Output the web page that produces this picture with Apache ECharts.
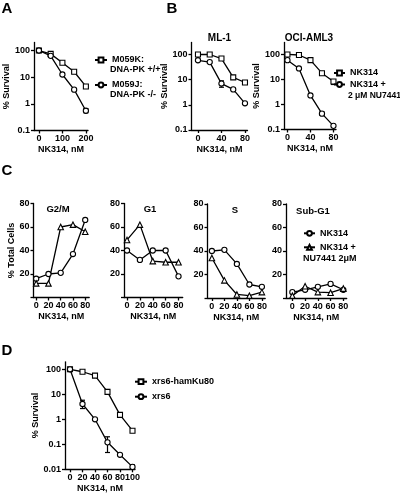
<!DOCTYPE html>
<html><head><meta charset="utf-8">
<script src="https://cdn.jsdelivr.net/npm/echarts@6/dist/echarts.min.js"></script>
<style>html,body{margin:0;padding:0;background:#fff}#c{width:400px;height:499px}</style>
</head><body><div id="c"></div>
<script>
// ---------- data ----------
const doseA = [0, 50, 100, 150, 200];
const m059k = [100, 75, 35, 16, 4.5];
const m059j = [100, 63, 12.6, 3.4, 0.55];
const errA = [[200, 0.46, 0.66]];

const doseB = [0, 20, 40, 60, 80];
const ml1Nk = [100, 100, 69, 12.3, 7.7];
const ml1Combo = [59, 50, 7, 4.1, 1.15];
const errMl1 = [[40, 5, 9]];
const ociNk = [100, 95, 59, 17.8, 8.3];
const ociCombo = [59, 27.5, 2.3, 0.43, 0.14];
const errOci = [[80, 6.3, 9.5], [60, 0.37, 0.5]];

const doseC = [0, 20, 40, 60, 80];
const g2mNk = [16, 20, 21, 37, 66];
const g2mCombo = [12, 12, 60, 62, 56];
const g1Nk = [40, 32, 40, 40, 18];
const g1Combo = [49, 62, 31, 30, 30];
const sNk = [40, 41, 29, 11.5, 9.5];
const sCombo = [34, 15, 3, 2, 5];
const subNk = [5, 7, 9.5, 12, 7];
const subCombo = [2, 10, 5, 4.5, 8];

const doseD = [0, 20, 40, 60, 80, 100];
const ku80 = [100, 80, 56, 12.5, 1.5, 0.35];
const xrs6 = [100, 4.1, 1.0, 0.12, 0.038, 0.0125];
const errD = [[20, 2.7, 5.8], [60, 0.047, 0.2], [60, 10.5, 15.5], [100, 0.011, 0.015]];

const ticksA = [0, 100, 200];
const ticksB = [0, 40, 80];
const ticksC = [0, 20, 40, 60, 80];
const ticksCy = [20, 40, 60, 80];
const ticksD = [0, 20, 40, 60, 80, 100];
const ticksLog = [0.1, 1, 10, 100];
const ticksLogD = [0.01, 0.1, 1, 10, 100];

// ---------- styling helpers ----------
const FONT = '"Liberation Sans", Arial, Helvetica, sans-serif';
const txt = (size) => ({ color: '#000', fontSize: size, fontWeight: 'bold', fontFamily: FONT });
const AX = { color: '#000', width: 1.3 };

function xAx(gi, min, max, ticks) {
  return {
    type: 'value', gridIndex: gi, min: min, max: max,
    axisLine: { show: true, onZero: false, lineStyle: AX },
    axisTick: { show: true, length: 3, customValues: ticks, lineStyle: AX },
    axisLabel: Object.assign({ customValues: ticks, margin: 4 }, txt(9)),
    splitLine: { show: false },
    name: 'NK314, nM', nameLocation: 'middle', nameGap: 15,
    nameTextStyle: txt(9)
  };
}
function fmtLog(v) {
  const m = { 0.01: '0.01', 0.1: '0.1', 1: '1', 10: '10', 100: '100' };
  for (const k in m) { if (Math.abs(v - k) / k < 1e-6) return m[k]; }
  return '';
}
function yLog(gi, min, max, ticks, gap) {
  return {
    type: 'log', logBase: 10, gridIndex: gi, min: min, max: max,
    axisLine: { show: true, onZero: false, lineStyle: AX },
    axisTick: { show: true, length: 3, customValues: ticks, lineStyle: AX },
    axisLabel: Object.assign({ customValues: ticks, margin: 4, formatter: fmtLog }, txt(9)),
    minorTick: { show: false },
    splitLine: { show: false },
    name: '% Survival', nameLocation: 'middle', nameGap: gap,
    nameTextStyle: txt(9)
  };
}
function yLin(gi, name, gap) {
  return {
    type: 'value', gridIndex: gi, min: 0, max: 80,
    axisLine: { show: true, onZero: false, lineStyle: AX },
    axisTick: { show: true, length: 3, customValues: [0].concat(ticksCy), lineStyle: AX },
    axisLabel: Object.assign({ customValues: ticksCy, margin: 4 }, txt(9)),
    splitLine: { show: false },
    name: name, nameLocation: 'middle', nameGap: gap,
    nameTextStyle: txt(9)
  };
}
function line(name, gi, xs, ys, symbol) {
  return {
    type: 'line', name: name, xAxisIndex: gi, yAxisIndex: gi,
    data: xs.map((x, i) => [x, ys[i]]),
    symbol: symbol, symbolSize: symbol === 'triangle' ? 5.5 : (symbol === 'rect' ? 5 : 5.2),
    showSymbol: true,
    itemStyle: { color: '#fff', borderColor: '#000', borderWidth: 1.1 },
    lineStyle: { color: '#000', width: 1.3 },
    emphasis: { disabled: true }, silent: true, z: 3
  };
}
function errBars(gi, arr) {
  return {
    type: 'custom', xAxisIndex: gi, yAxisIndex: gi, data: arr, silent: true, z: 2,
    renderItem: function (params, api) {
      const x = api.value(0);
      const p1 = api.coord([x, api.value(1)]);
      const p2 = api.coord([x, api.value(2)]);
      const w = 2.5, st = { stroke: '#000', lineWidth: 1.2 };
      return { type: 'group', children: [
        { type: 'line', shape: { x1: p1[0], y1: p1[1], x2: p2[0], y2: p2[1] }, style: st },
        { type: 'line', shape: { x1: p1[0] - w, y1: p1[1], x2: p1[0] + w, y2: p1[1] }, style: st },
        { type: 'line', shape: { x1: p2[0] - w, y1: p2[1], x2: p2[0] + w, y2: p2[1] }, style: st }
      ] };
    }
  };
}
function legend(names, left, top, gap, iw) {
  return {
    data: names, orient: 'vertical', left: left, top: top, itemGap: gap,
    itemWidth: iw, itemHeight: 6, padding: 0, selectedMode: false,
    formatter: n => n.replace(/#.*$/, ''),
    textStyle: Object.assign({ lineHeight: 10 }, txt(9))
  };
}
function label(text, x, y, size, align) {
  return { type: 'text', x: x, y: y, silent: true,
    style: Object.assign({ text: text, textAlign: align || 'center', textVerticalAlign: 'middle',
      fill: '#000', font: 'bold ' + size + 'px ' + FONT }) };
}

const option = {
  animation: false,
  backgroundColor: '#fff',
  grid: [
    { left: 34, top: 42.5, width: 54, height: 88 },      // A
    { left: 191.5, top: 42.5, width: 56, height: 87.5 }, // ML-1
    { left: 284, top: 42.5, width: 52, height: 87 },     // OCI
    { left: 33.5, top: 203.5, width: 55.7, height: 94 }, // G2/M
    { left: 124, top: 203.5, width: 58.7, height: 94 },  // G1
    { left: 207.5, top: 204, width: 57.7, height: 94 },  // S
    { left: 286, top: 204, width: 60.7, height: 94 },    // Sub-G1
    { left: 65, top: 361.8, width: 70, height: 107.5 }   // D
  ],
  xAxis: [
    xAx(0, -21, 209, ticksA),
    xAx(1, -11, 84.3, ticksB),
    xAx(2, -6, 84.4, ticksB),
    xAx(3, -4.4, 86.5, ticksC),
    xAx(4, -4.7, 86.5, ticksC),
    xAx(5, -7, 85.3, ticksC),
    xAx(6, -10, 85.3, ticksC),
    xAx(7, -8, 104, ticksD)
  ],
  yAxis: [
    yLog(0, 0.1, 200, ticksLog, 19),
    yLog(1, 0.1, 300, ticksLog, 19),
    yLog(2, 0.1, 300, ticksLog, 19),
    yLin(3, '% Total Cells', 16),
    yLin(4, '', 16),
    yLin(5, '', 16),
    yLin(6, '', 16),
    yLog(7, 0.01, 200, ticksLogD, 21)
  ],
  legend: [
    legend(['M059K:', 'M059J:'], 94, 55, 15, 12),
    legend(['NK314', 'NK314 +'], 333, 68, 1.5, 11),
    legend(['NK314#C', 'NK314 +#C'], 303, 228.3, 4, 11),
    legend(['xrs6-hamKu80', 'xrs6'], 134, 376.7, 5, 12)
  ],
  series: [
    errBars(0, errA),
    line('M059K:', 0, doseA, m059k, 'rect'),
    line('M059J:', 0, doseA, m059j, 'circle'),
    errBars(1, errMl1),
    line('NK314', 1, doseB, ml1Nk, 'rect'),
    line('NK314 +', 1, doseB, ml1Combo, 'circle'),
    errBars(2, errOci),
    line('NK314', 2, doseB, ociNk, 'rect'),
    line('NK314 +', 2, doseB, ociCombo, 'circle'),
    line('NK314#C', 3, doseC, g2mNk, 'circle'),
    line('NK314 +#C', 3, doseC, g2mCombo, 'triangle'),
    line('NK314#C', 4, doseC, g1Nk, 'circle'),
    line('NK314 +#C', 4, doseC, g1Combo, 'triangle'),
    line('NK314#C', 5, doseC, sNk, 'circle'),
    line('NK314 +#C', 5, doseC, sCombo, 'triangle'),
    line('NK314#C', 6, doseC, subNk, 'circle'),
    line('NK314 +#C', 6, doseC, subCombo, 'triangle'),
    errBars(7, errD),
    line('xrs6-hamKu80', 7, doseD, ku80, 'rect'),
    line('xrs6', 7, doseD, xrs6, 'circle')
  ],
  graphic: [
    label('A', 7, 9, 15), label('B', 172, 9, 15), label('C', 7, 171, 15), label('D', 7, 351, 15),
    label('ML-1', 219.5, 38, 10), label('OCI-AML3', 309, 38, 10),
    label('G2/M', 58, 209, 9.5), label('G1', 150, 209, 9.5), label('S', 235, 210, 9.5), label('Sub-G1', 313, 211, 9.5),
    label('DNA-PK +/+', 110, 70, 9, 'left'), label('DNA-PK -/-', 110, 95, 9, 'left'),
    label('2 μM NU7441', 348, 96, 8.5, 'left'), label('NU7441 2μM', 303, 258.3, 9, 'left')
  ]
};
echarts.init(document.getElementById('c'), null, { renderer: 'canvas' }).setOption(option);
</script></body></html>
